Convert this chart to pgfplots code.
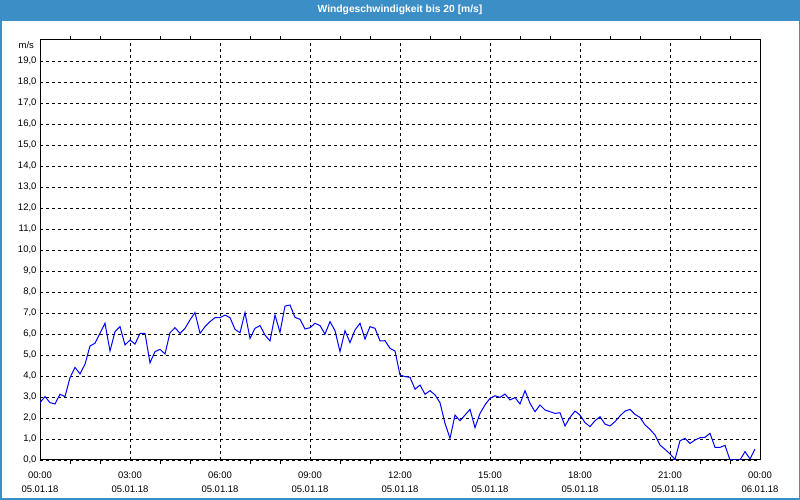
\documentclass[border=0pt]{standalone}
\usepackage{pgfplots}
\pgfplotsset{compat=1.18}
\usepackage{fontspec}
\setmainfont{Liberation Sans}
\definecolor{barblue}{RGB}{60,143,198}
\begin{document}
\begin{tikzpicture}
\useasboundingbox (0pt,0pt) rectangle (800pt,500pt);
\fill[white] (0pt,0pt) rectangle (800pt,500pt);
\fill[barblue] (0pt,479pt) rectangle (800pt,500pt);
\draw[barblue, line width=1.5pt] (0.75pt,479pt) -- (0.75pt,0.75pt) -- (799.25pt,0.75pt) -- (799.25pt,479pt);
\node[text=white, font=\fontsize{10.3}{12}\selectfont\bfseries] at (400pt,490pt) {Windgeschwindigkeit bis 20 [m/s]};
\node[anchor=east, font=\fontsize{9.5}{11}\selectfont] at (37.5pt,455pt) {m/s};
\begin{axis}[
  scale only axis, width=720pt, height=420pt,
  at={(40pt,40pt)}, anchor=south west,
  xmin=0, xmax=1440, ymin=0, ymax=20,
  xtick={0,180,...,1440},
  xticklabels={00:00\\05.01.18, 03:00\\05.01.18, 06:00\\05.01.18, 09:00\\05.01.18, 12:00\\05.01.18, 15:00\\05.01.18, 18:00\\05.01.18, 21:00\\05.01.18, 00:00\\06.01.18},
  minor xtick={60,120,240,300,420,480,600,660,780,840,960,1020,1140,1200,1320,1380},
  ytick={0,1,...,19},
  xmajorgrids, ymajorgrids,
  major grid style={black, line width=0.8pt, dash pattern=on 3pt off 3pt},
  axis line style={black, line width=1pt},
  major tick length=0pt, minor tick length=4pt, tick align=outside,
  tick style={black, line width=0.8pt},
  xticklabel style={align=center, font=\fontsize{9.5}{14}\selectfont, yshift=-8pt},
  yticklabel style={font=\fontsize{9.5}{11}\selectfont, /pgf/number format/.cd, fixed, fixed zerofill, precision=1, use comma, assume math mode=true},
]
\addplot[blue, line width=1pt] table[x=t, y=v] {
t v
0 2.73
10 3.02
20 2.73
30 2.67
40 3.13
50 3.02
60 3.92
70 4.41
80 4.10
90 4.56
100 5.43
110 5.56
120 6.03
130 6.51
140 5.19
150 6.11
160 6.35
170 5.48
180 5.71
190 5.52
200 6.03
210 6.03
220 4.63
230 5.16
240 5.27
250 5.05
260 6.06
270 6.30
280 6.03
290 6.27
300 6.67
310 7.02
320 6.03
330 6.35
340 6.59
350 6.78
360 6.78
370 6.90
380 6.78
390 6.22
400 6.06
410 7.02
420 5.79
430 6.27
440 6.40
450 5.95
460 5.67
470 6.90
480 6.08
490 7.33
500 7.38
510 6.79
520 6.70
530 6.24
540 6.30
550 6.51
560 6.40
570 6.00
580 6.59
590 6.16
600 5.16
610 6.16
620 5.59
630 6.19
640 6.51
650 5.76
660 6.35
670 6.27
680 5.67
690 5.68
700 5.32
710 5.19
720 4.05
730 3.97
740 3.94
750 3.37
760 3.57
770 3.13
780 3.30
790 3.10
800 2.73
810 1.75
820 1.03
830 2.14
840 1.87
850 2.14
860 2.41
870 1.54
880 2.22
890 2.62
900 2.94
910 3.06
920 2.98
930 3.14
940 2.86
950 2.97
960 2.67
970 3.30
980 2.70
990 2.30
1000 2.62
1010 2.38
1020 2.30
1030 2.22
1040 2.25
1050 1.62
1060 2.03
1070 2.33
1080 2.14
1090 1.78
1100 1.59
1110 1.87
1120 2.06
1130 1.71
1140 1.62
1150 1.83
1160 2.10
1170 2.33
1180 2.41
1190 2.17
1200 2.03
1210 1.67
1220 1.46
1230 1.19
1240 0.71
1250 0.51
1260 0.29
1270 0.03
1280 0.92
1290 1.03
1300 0.79
1310 0.95
1320 1.06
1330 1.08
1340 1.27
1350 0.60
1360 0.60
1370 0.70
1380 0.00
1390 0.00
1400 0.00
1410 0.40
1420 0.05
1430 0.52
};
\end{axis}
\end{tikzpicture}
\end{document}
